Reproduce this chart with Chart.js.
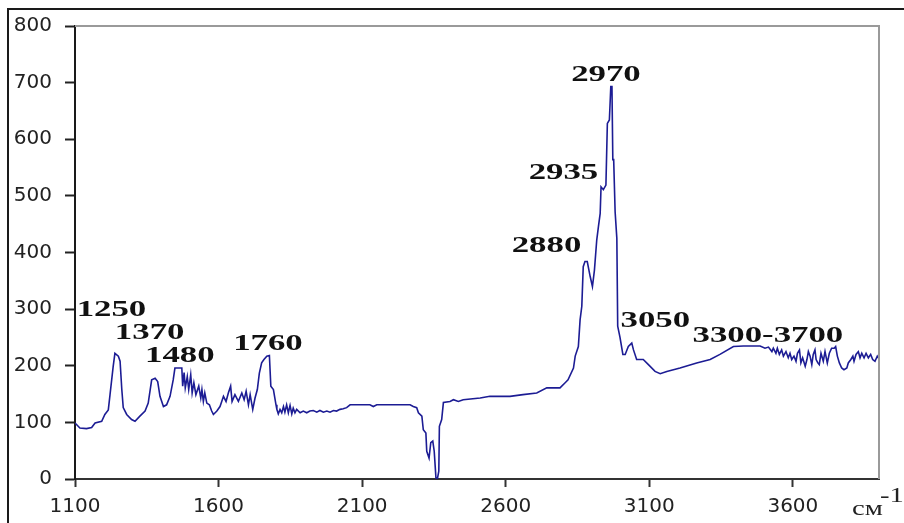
<!DOCTYPE html>
<html>
<head>
<meta charset="utf-8">
<title>ИК-спектр</title>
<script src="https://cdn.jsdelivr.net/npm/chart.js@4.4.1/dist/chart.umd.min.js"></script>
<style>
  html, body { margin: 0; padding: 0; background: #ffffff; }
  #wrap { position: relative; width: 904px; height: 523px; overflow: hidden; }
  #frame { position: absolute; left: 7px; top: 8px; width: 910px; height: 530px;
           border-left: 2px solid #1a1a1a; border-top: 2px solid #1a1a1a; pointer-events: none; }
  canvas { position: absolute; left: 0; top: 0; }
</style>
</head>
<body>
<div id="wrap">
  <canvas id="chart" width="904" height="523"></canvas>
  <div id="frame"></div>
</div>
<script>
// Wavenumber (cm^-1) of each sample of the spectrum
const wavenumbers = [
  1100, 1117, 1140, 1158, 1170, 1193, 1204, 1216, 1222, 1233, 1239, 1251, 1257, 1263, 1268, 1280,
  1297, 1309, 1326, 1344, 1355, 1367, 1379, 1388, 1396, 1408, 1419, 1431, 1442, 1448, 1460, 1472,
  1475, 1480, 1484, 1491, 1496, 1503, 1508, 1514, 1521, 1531, 1538, 1542, 1547, 1552, 1559, 1568,
  1576, 1582, 1594, 1605, 1611, 1617, 1626, 1634, 1642, 1647, 1657, 1669, 1681, 1689, 1696, 1704,
  1710, 1719, 1727, 1735, 1742, 1750, 1758, 1768, 1777, 1782, 1791, 1800, 1803, 1808, 1814, 1820,
  1826, 1831, 1837, 1843, 1849, 1855, 1860, 1866, 1872, 1884, 1895, 1907, 1918, 1930, 1942, 1953,
  1965, 1977, 1988, 2000, 2011, 2023, 2034, 2046, 2058, 2127, 2139, 2151, 2244, 2267, 2278, 2290,
  2296, 2308, 2313, 2322, 2325, 2333, 2339, 2346, 2351, 2357, 2362, 2367, 2369, 2377, 2383, 2406,
  2418, 2435, 2452, 2511, 2545, 2615, 2660, 2708, 2743, 2789, 2807, 2817, 2836, 2842, 2853, 2859,
  2865, 2870, 2876, 2884, 2894, 2902, 2909, 2917, 2923, 2929, 2932, 2940, 2949, 2954, 2961, 2966,
  2970, 2973, 2976, 2981, 2987, 2990, 2998, 3008, 3016, 3027, 3039, 3045, 3056, 3079, 3097, 3120,
  3138, 3161, 3207, 3265, 3312, 3346, 3393, 3428, 3486, 3503, 3515, 3527, 3532, 3541, 3546, 3553,
  3561, 3567, 3576, 3584, 3590, 3596, 3604, 3611, 3616, 3623, 3628, 3634, 3643, 3649, 3654, 3660,
  3666, 3671, 3677, 3681, 3687, 3692, 3698, 3706, 3712, 3720, 3727, 3735, 3744, 3749, 3755, 3762,
  3770, 3778, 3788, 3793, 3802, 3809, 3813, 3820, 3828, 3834, 3840, 3848, 3855, 3863, 3871, 3878,
  3886, 3894, 3900
];

// Signal intensity at each wavenumber
const intensity = [
  99, 90, 89, 91, 99, 102, 114, 122, 149, 199, 222, 217, 208, 158, 126, 114,
  105, 102, 111, 120, 134, 175, 178, 172, 146, 128, 131, 146, 175, 196, 196, 196,
  164, 188, 161, 181, 158, 184, 152, 170, 149, 164, 143, 158, 137, 152, 134, 131,
  120, 114, 120, 128, 137, 146, 137, 152, 164, 137, 149, 137, 152, 140, 155, 131,
  149, 123, 143, 158, 187, 205, 211, 217, 218, 164, 158, 131, 123, 115, 123, 117,
  128, 118, 131, 117, 130, 115, 125, 117, 123, 117, 120, 117, 120, 121, 118, 121,
  118, 120, 118, 121, 120, 123, 124, 126, 131, 131, 128, 131, 131, 131, 128, 126,
  117, 111, 87, 81, 49, 37, 64, 67, 49, 2, 0, 14, 93, 105, 135, 137,
  140, 137, 140, 143, 146, 146, 149, 152, 161, 161, 170, 175, 196, 217, 234, 281,
  305, 375, 384, 384, 358, 340, 369, 422, 446, 469, 516, 511, 519, 628, 634, 693,
  693, 564, 564, 472, 425, 270, 250, 220, 220, 234, 240, 228, 211, 211, 202, 190,
  186, 190, 196, 205, 211, 220, 234, 235, 235, 231, 233, 225, 231, 222, 231, 220,
  228, 217, 225, 214, 222, 211, 217, 208, 222, 228, 205, 214, 199, 211, 225, 217,
  202, 220, 228, 211, 205, 202, 222, 208, 225, 205, 222, 231, 231, 234, 217, 205,
  196, 193, 196, 205, 211, 217, 208, 220, 225, 214, 222, 214, 222, 214, 220, 211,
  208, 217, 212
];

// Axis tick values
const xTicks = [1100, 1600, 2100, 2600, 3100, 3600];
const yTicks = [0, 100, 200, 300, 400, 500, 600, 700, 800];

// Band assignments written over the curve, anchored at (wavenumber, intensity)
const bandLabels = ['1250', '1370', '1480', '1760', '2880', '2935', '2970', '3050', '3300-3700'];
const bandLabelX = [1227, 1360, 1465, 1772, 2742, 2801, 2949, 3121, 3513];
const bandLabelY = [288, 248, 207, 228, 401, 530, 703, 269, 242];

const unitText = 'см';
const unitPower = '-1';

const points = wavenumbers.map((w, i) => ({ x: w, y: intensity[i] }));

// Draws the grey top/right plot frame, the band labels and the unit of the x axis
const decorations = {
  id: 'decorations',
  afterDatasetsDraw(chart) {
    const ctx = chart.ctx;
    const area = chart.chartArea;
    const xs = chart.scales.x, ys = chart.scales.y;

    ctx.save();
    ctx.strokeStyle = '#9a9a9a';
    ctx.lineWidth = 2;
    ctx.beginPath();
    ctx.moveTo(area.left, area.top);
    ctx.lineTo(area.right, area.top);
    ctx.lineTo(area.right, area.bottom);
    ctx.stroke();
    ctx.restore();

    ctx.save();
    ctx.fillStyle = '#111111';
    ctx.font = 'bold 24px "Liberation Serif", "Times New Roman", serif';
    ctx.textAlign = 'center';
    ctx.textBaseline = 'alphabetic';
    bandLabels.forEach((t, i) => {
      const px = xs.getPixelForValue(bandLabelX[i]);
      const py = ys.getPixelForValue(bandLabelY[i]);
      ctx.save();
      ctx.translate(px, py);
      ctx.scale(1.45, 1);
      ctx.fillText(t, 0, 0);
      ctx.restore();
    });
    ctx.restore();

    ctx.save();
    ctx.fillStyle = '#222222';
    ctx.textAlign = 'left';
    ctx.textBaseline = 'alphabetic';
    ctx.translate(area.right - 27, area.bottom + 36);
    ctx.scale(1.3, 1);
    ctx.font = '22px "Liberation Serif", "Times New Roman", serif';
    ctx.fillText(unitText, 0, 0);
    ctx.restore();

    ctx.save();
    ctx.fillStyle = '#222222';
    ctx.textAlign = 'left';
    ctx.textBaseline = 'alphabetic';
    ctx.translate(area.right + 1, area.bottom + 23);
    ctx.scale(1.3, 1);
    ctx.font = '22px "Liberation Serif", "Times New Roman", serif';
    ctx.fillText(unitPower, 0, 0);
    ctx.restore();
  }
};

new Chart(document.getElementById('chart'), {
  type: 'line',
  data: {
    datasets: [{
      data: points,
      borderColor: '#1c1c94',
      borderWidth: 1.6,
      pointRadius: 0,
      tension: 0,
      fill: false
    }]
  },
  options: {
    responsive: false,
    animation: false,
    devicePixelRatio: 1,
    layout: { padding: { top: 26, right: 25, left: 0, bottom: 0 } },
    plugins: { legend: { display: false }, tooltip: { enabled: false } },
    scales: {
      x: {
        type: 'linear',
        min: 1100,
        max: 3900,
        afterBuildTicks: s => { s.ticks = xTicks.map(v => ({ value: v })); },
        afterFit: s => { s.height = 44; },
        ticks: {
          autoSkip: false, maxRotation: 0, padding: 8, includeBounds: false,
          callback: v => String(v),
          color: '#222', font: { family: '"DejaVu Sans", sans-serif', size: 20 }
        },
        grid: { drawOnChartArea: false, drawTicks: true, tickLength: 8, tickWidth: 2, tickColor: '#333' },
        border: { display: true, color: '#333', width: 2 }
      },
      y: {
        min: 0,
        max: 800,
        afterBuildTicks: s => { s.ticks = yTicks.map(v => ({ value: v })); },
        afterFit: s => { s.width = 75; },
        ticks: {
          padding: 13,
          callback: v => String(v),
          color: '#222', font: { family: '"DejaVu Sans", sans-serif', size: 20 }
        },
        grid: { drawOnChartArea: false, drawTicks: true, tickLength: 10, tickWidth: 2, tickColor: '#222' },
        border: { display: true, color: '#1a1a1a', width: 2 }
      }
    }
  },
  plugins: [decorations]
});
</script>
</body>
</html>
